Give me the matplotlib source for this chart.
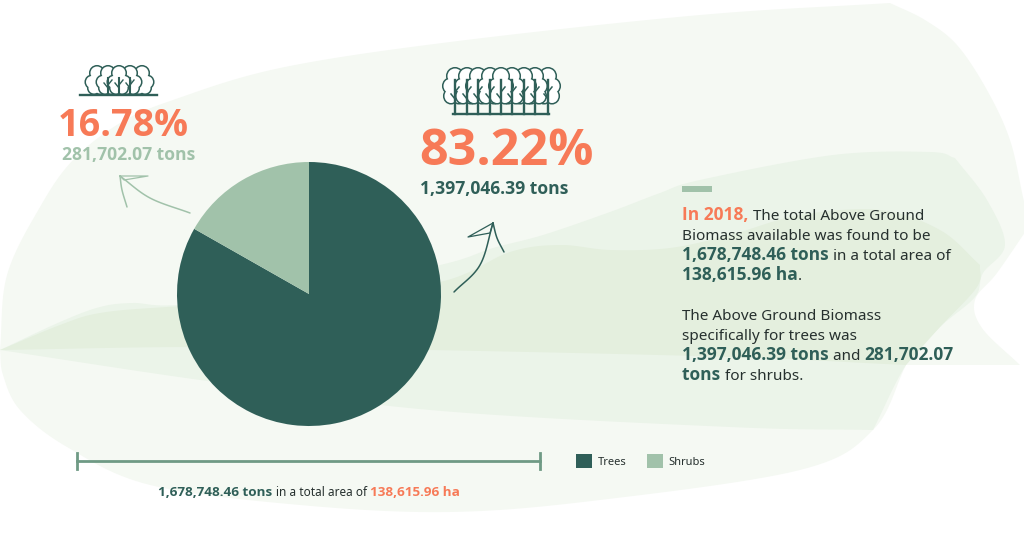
import matplotlib
matplotlib.use("Agg")
import matplotlib.pyplot as plt
from matplotlib.patches import Polygon, Ellipse, Rectangle, Patch
import numpy as np

plt.rcParams['font.family'] = ['Noto Sans', 'DejaVu Sans']
BOLD_FAMILY = ['Open Sans', 'DejaVu Sans']

categories = ['Trees', 'Shrubs']
biomass_tons = [1397046.39, 281702.07]
share_labels = ['83.22%', '16.78%']
tons_labels = ['1,397,046.39 tons', '281,702.07 tons']

DARK = '#2f5f58'
LIGHT = '#a1c2aa'
CORAL = '#f77a57'
INK = '#26302e'
RULE = '#6f9a85'

fig = plt.figure(figsize=(10.24, 5.35), dpi=100, facecolor='white')
ax = fig.add_axes([0, 0, 1, 1])
ax.set_xlim(0, 1024)
ax.set_ylim(535, 0)
ax.axis('off')


def smooth(pts, n=14):
    """Catmull-Rom through decorative outline points."""
    p = np.array(pts, float)
    q = np.vstack([2 * p[0] - p[1], p, 2 * p[-1] - p[-2]])
    out = []
    for i in range(1, len(q) - 2):
        for t in np.linspace(0, 1, n, endpoint=False):
            a, b, c, d = q[i - 1], q[i], q[i + 1], q[i + 2]
            out.append(0.5 * (2 * b + (c - a) * t + (2 * a - 5 * b + 4 * c - d) * t ** 2
                              + (3 * b - a - 3 * c + d) * t ** 3))
    out.append(p[-1])
    return np.array(out)


def blob(sections, color, z):
    xy = np.vstack([smooth(s) for s in sections])
    ax.add_patch(Polygon(xy, closed=True, fc=color, ec='none', zorder=z))


# pale background washes
blob([[(0, 350), (7, 275), (40, 207), (73, 160), (120, 123), (173, 100), (280, 68), (450, 42), (700, 15), (890, 3)],
      [(890, 3), (925, 20), (957, 45), (987, 90), (1010, 140), (1023, 197), (1030, 225)],
      [(1030, 225), (997, 273), (975, 300), (982, 328), (1020, 365)],
      [(1020, 365), (906, 365)],
      [(906, 365), (873, 430), (800, 470), (600, 500), (450, 512), (300, 505), (150, 485),
       (67, 447), (20, 410), (3, 375), (0, 350)]], '#f5f9f3', 1)
blob([[(0, 350), (60, 322), (100, 307), (133, 303), (177, 305), (300, 292), (440, 265), (493, 248),
       (543, 235), (610, 212), (660, 193), (700, 180), (833, 155), (930, 152), (955, 158)],
      [(955, 158), (987, 200), (1005, 245), (983, 273), (975, 297), (940, 327), (906, 365), (873, 430)],
      [(873, 430), (730, 427), (430, 410), (200, 380), (0, 350)]], '#ebf4e9', 2)
blob([[(0, 350), (60, 325), (100, 313), (167, 307), (300, 300), (440, 282), (510, 252), (560, 245),
       (610, 250), (670, 248), (730, 235), (800, 215), (880, 210), (940, 230), (980, 265)],
      [(980, 265), (977, 287), (940, 327), (906, 365)],
      [(906, 365), (730, 357), (430, 350), (200, 347), (0, 350)]], '#e4efde', 3)


def curve(pts, color, lw, z=6):
    xy = smooth(pts)
    ax.plot(xy[:, 0], xy[:, 1], color=color, lw=lw, solid_capstyle='round', zorder=z)


# tree icons: lobes outlined, then refilled so only the scalloped outer edge stays
def crown(lobes, z):
    for cx, cy, w, h in lobes:
        ax.add_patch(Ellipse((cx, cy), w, h, fc='white', ec=DARK, lw=2.2, zorder=z))
    for cx, cy, w, h in lobes:
        ax.add_patch(Ellipse((cx, cy), w, h, fc='white', ec='none', zorder=z + 0.01))


big_trunks = [455, 467, 478, 490, 501, 512, 524, 535, 548]
for i, x in enumerate(big_trunks):
    z = 7 + (4 - abs(i - 4)) * 0.1
    crown([(x, 76, 15, 15), (x - 5, 86, 13, 14), (x + 5, 86, 13, 14),
           (x - 4, 96, 13, 14), (x + 4, 96, 13, 14)], z)
for x in big_trunks:
    ax.plot([x, x], [80, 114], color=DARK, lw=1.7, zorder=8)
    ax.plot([x, x - 4], [99, 94], color=DARK, lw=1.1, zorder=8)
    ax.plot([x, x + 4], [92, 87], color=DARK, lw=1.1, zorder=8)
ax.plot([453, 549], [114, 114], color=DARK, lw=1.7, zorder=8)

small_trunks = [97, 108, 119, 130, 142]
for i, x in enumerate(small_trunks):
    z = 7 + (2 - abs(i - 2)) * 0.1
    crown([(x, 73, 13, 13), (x - 5, 82, 12, 12), (x + 5, 82, 12, 12),
           (x - 3, 88, 11, 11), (x + 3, 88, 11, 11)], z)
for x in small_trunks[1:4]:
    ax.plot([x, x], [78, 94], color=DARK, lw=1.5, zorder=8)
    ax.plot([x, x - 4], [88, 83], color=DARK, lw=1.0, zorder=8)
    ax.plot([x, x + 4], [85, 80], color=DARK, lw=1.0, zorder=8)
ax.plot([80, 157], [94.5, 94.5], color=DARK, lw=1.7, zorder=8)

# arrows
curve([(190, 213), (150, 198), (120, 176)], LIGHT, 1.1)
curve([(120, 176), (122, 190), (127, 207)], LIGHT, 1.1)
ax.plot([120, 148, 124, 120], [176, 176, 180, 176], color=LIGHT, lw=0.9, zorder=6)
curve([(454, 292), (480, 265), (493, 223)], DARK, 1.1)
curve([(493, 223), (497, 238), (504, 252)], DARK, 1.1)
ax.plot([493, 468, 490, 493], [223, 237, 233, 223], color=DARK, lw=0.9, zorder=6)

# rules
ax.add_patch(Rectangle((682, 186), 30, 6, fc=LIGHT, ec='none', zorder=6))
ax.plot([77, 540], [461, 461], color=RULE, lw=2, zorder=6)
ax.plot([77, 77], [453, 469], color=RULE, lw=2, zorder=6)
ax.plot([540, 540], [453, 469], color=RULE, lw=2, zorder=6)

# pie
cx, cy, r = 309, 294, 132
pie_ax = fig.add_axes([(cx - r) / 1024, 1 - (cy + r) / 535, 2 * r / 1024, 2 * r / 535])
wedges, _ = pie_ax.pie(biomass_tons, colors=[DARK, LIGHT], startangle=90, counterclock=False, radius=1)
pie_ax.set_xlim(-1, 1)
pie_ax.set_ylim(-1, 1)
pie_ax.set_zorder(5)
pie_ax.patch.set_alpha(0)

# headline numbers
ax.text(58, 136, share_labels[1], color=CORAL, fontsize=27.2, fontweight='bold', family=BOLD_FAMILY, zorder=9)
ax.text(62, 160, tons_labels[1], color=LIGHT, fontsize=12.6, fontweight='bold', family=BOLD_FAMILY, zorder=9)
ax.text(419, 165, share_labels[0], color=CORAL, fontsize=36.2, fontweight='bold', family=BOLD_FAMILY, zorder=9)
ax.text(420, 194, tons_labels[0], color=DARK, fontsize=12.6, fontweight='bold', family=BOLD_FAMILY, zorder=9)

renderer = fig.canvas.get_renderer()


def rich(x, y, parts, size, bold_size):
    for s, col, weight in parts:
        bold = weight == 'bold'
        t = ax.text(x, y, s.replace(' ', '\u00a0'), color=col, fontsize=bold_size if bold else size,
                    fontweight=weight, family=BOLD_FAMILY if bold else ['Noto Sans', 'DejaVu Sans'], zorder=9)
        x += t.get_window_extent(renderer).width


B = 'bold'
N = 'normal'
body = [
    (220, [('In 2018, ', CORAL, B), ('The total Above Ground', INK, N)]),
    (240, [('Biomass available was found to be', INK, N)]),
    (260, [('1,678,748.46 tons ', DARK, B), ('in a total area of', INK, N)]),
    (280, [('138,615.96 ha', DARK, B), ('.', INK, N)]),
    (320, [('The Above Ground Biomass', INK, N)]),
    (340, [('specifically for trees was', INK, N)]),
    (360, [('1,397,046.39 tons ', DARK, B), ('and ', INK, N), ('281,702.07', DARK, B)]),
    (380, [('tons ', DARK, B), ('for shrubs.', INK, N)]),
]
for y, parts in body:
    rich(682, y, parts, 11, 12.5)

rich(158, 496, [('1,678,748.46 tons ', DARK, B), ('in a total area of ', INK, N), ('138,615.96 ha', CORAL, B)], 8.5, 9.7)

# legend
handles = [Patch(fc=DARK, ec='none'), Patch(fc=LIGHT, ec='none')]
leg = fig.legend(handles, categories, ncol=2, frameon=False, fontsize=8, labelcolor=INK,
                 loc='center left', bbox_to_anchor=(576 / 1024, 1 - 461 / 535), borderaxespad=0,
                 handlelength=1.44, handleheight=1.44, handletextpad=0.54, columnspacing=1.8,
                 borderpad=0)

fig.savefig('out.png', dpi=100, facecolor='white')
